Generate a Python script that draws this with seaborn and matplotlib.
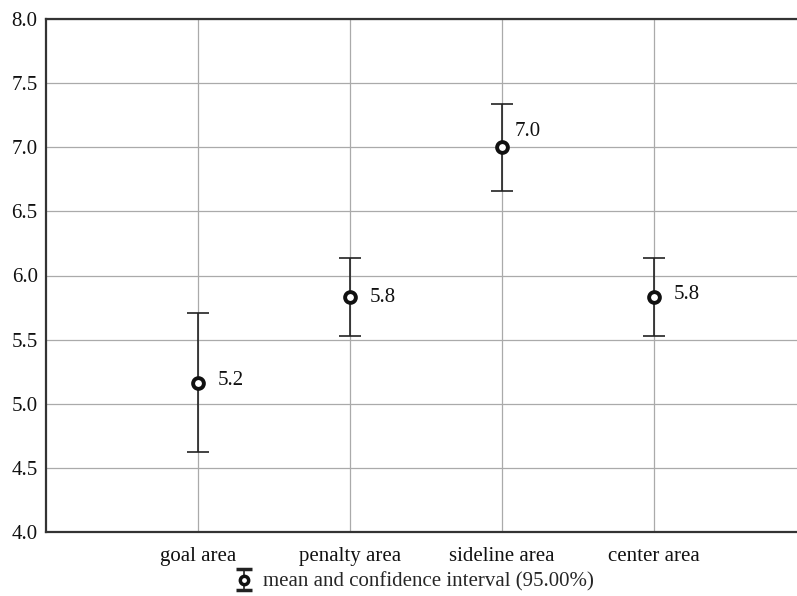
import seaborn as sns
import numpy as np
import pandas as pd
import matplotlib.pyplot as plt

areas = ["goal area", "penalty area", "sideline area", "center area"]
means = [5.16, 5.83, 7.00, 5.83]
ci_low = [4.62, 5.53, 6.66, 5.53]
ci_high = [5.71, 6.14, 7.34, 6.14]
labels = ["5.2", "5.8", "7.0", "5.8"]

sns.set_theme(style="white")
plt.rcParams['font.family'] = ['Liberation Serif', 'DejaVu Serif']

df = pd.DataFrame({"area": areas, "mean": means})

fig = plt.figure(figsize=(7.97, 5.96), dpi=100)
ax = fig.add_axes([46 / 797, 64 / 596, 760 / 797, 513 / 596])

x = np.arange(len(areas))
yerr = [np.array(means) - np.array(ci_low), np.array(ci_high) - np.array(means)]
ax.errorbar(x, means, yerr=yerr, fmt="none", ecolor="#222222",
            elinewidth=1.2, capsize=8, capthick=1.2, zorder=3)
sns.scatterplot(data=df, x="area", y="mean", ax=ax, marker="o", s=60,
                facecolor="white", edgecolor="#111111", linewidth=2.8, zorder=4)

offsets = [(14, 2), (14, 0), (9, 11), (14, 2)]
for xi, m, lab, off in zip(x, means, labels, offsets):
  ax.annotate(lab, (xi, m), xytext=off, textcoords="offset points",
              fontsize=15, va="center", ha="left", color="#111111")

ax.set_xlim(-1, 4)
ax.set_ylim(4.0, 8.0)
ax.set_yticks(np.arange(4.0, 8.01, 0.5))
ax.set_yticklabels([f"{v:.1f}" for v in np.arange(4.0, 8.01, 0.5)], fontsize=15)
ax.set_xticks(x)
ax.set_xticklabels(areas, fontsize=15)
ax.set_xlabel("")
ax.set_ylabel("")
ax.grid(True, color="#aaaaaa", linewidth=0.9)
ax.set_axisbelow(True)
for s in ax.spines.values():
  s.set_color("#333333")
  s.set_linewidth(1.6)
ax.tick_params(axis="both", length=3, color="#333333", labelcolor="#111111")
ax.tick_params(axis="x", pad=8)
ax.tick_params(axis="y", pad=3)

# legend handle: point with confidence interval
handle = ax.errorbar([np.nan], [np.nan], yerr=[[1], [1]], fmt="o", color="#222222",
                     markersize=6, markerfacecolor="white", markeredgecolor="#111111",
                     markeredgewidth=2.5, elinewidth=1.2, capsize=6, capthick=1.2)
fig.legend([handle], ["mean and confidence interval (95.00%)"], loc="center",
           bbox_to_anchor=(414 / 797, 1 - 582 / 596), frameon=False, fontsize=15,
           handlelength=1.0, handletextpad=0.4, handleheight=0.6)

plt.savefig("out.png", dpi=100)
